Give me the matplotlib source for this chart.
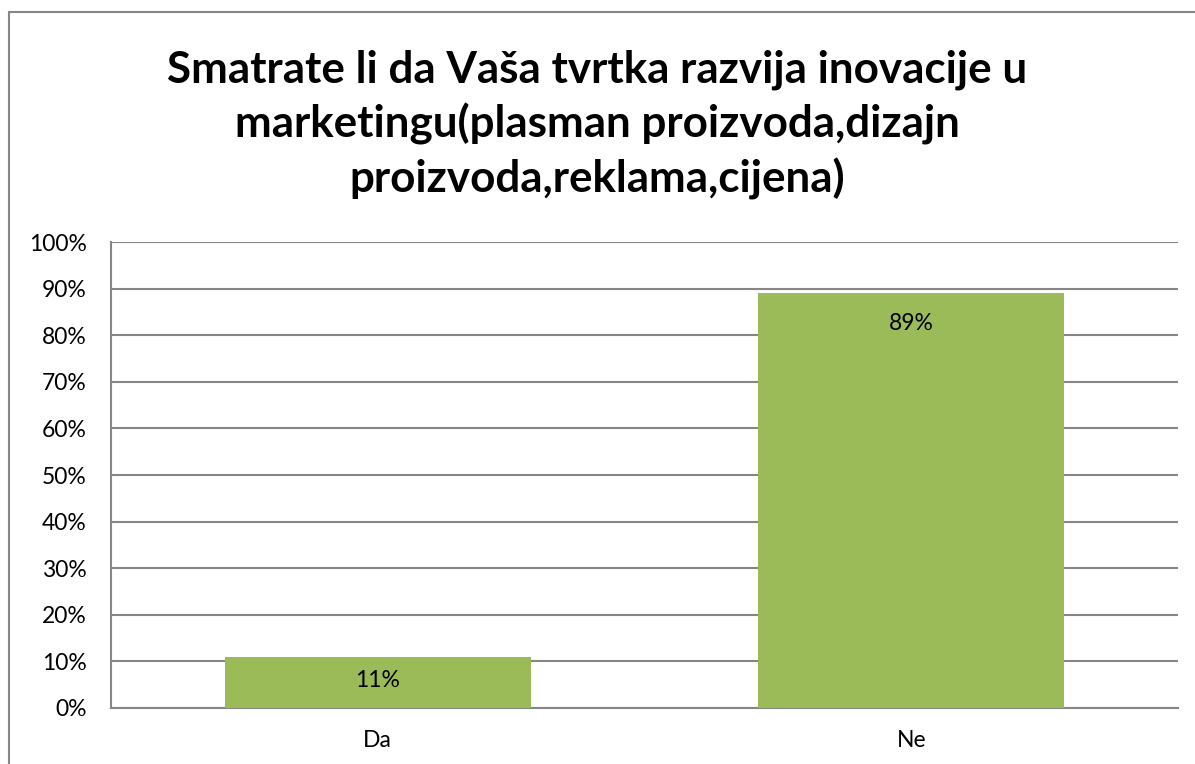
import matplotlib
matplotlib.use("Agg")
import matplotlib.pyplot as plt
from matplotlib.patches import Rectangle

categories = ["Da", "Ne"]
values = [11, 89]
value_labels = ["11%", "89%"]
yticks = [0, 10, 20, 30, 40, 50, 60, 70, 80, 90, 100]
ytick_labels = [f"{t}%" for t in yticks]
title = "Smatrate li da Vaša tvrtka razvija inovacije u\nmarketingu(plasman proizvoda,dizajn\nproizvoda,reklama,cijena)"

plt.rcParams['font.family'] = ['Lato', 'DejaVu Sans']

W, H = 1195, 764
fig = plt.figure(figsize=(W / 100, H / 100), dpi=100)

# outer chart border
fig.patches.append(Rectangle((9 / W, -0.1), 1.2, 1 - 12 / H + 0.1, transform=fig.transFigure,
                             fill=False, edgecolor="#868686", linewidth=1.5))

ax = fig.add_axes([111 / W, 1 - 708 / H, (1178 - 111) / W, (708 - 242) / H])
x = list(range(len(categories)))
bars = ax.bar(x, values, width=0.573, color="#9BBB59", zorder=3)
ax.set_xlim(-0.5, 1.5)
ax.set_ylim(0, 100)
ax.set_yticks(yticks)
ax.set_yticklabels(ytick_labels, fontsize=16.5)
ax.set_xticks(x)
ax.set_xticklabels(categories, fontsize=16.5)
ax.tick_params(axis="both", length=0)
ax.tick_params(axis="y", pad=17.5)
ax.tick_params(axis="x", pad=15.5)
ax.grid(axis="y", color="#868686", linewidth=1.5, zorder=0)
for s in ["top", "right"]:
    ax.spines[s].set_visible(False)
for s in ["left", "bottom"]:
    ax.spines[s].set_color("#868686")
    ax.spines[s].set_linewidth(1.5)

label_offsets = [-17, -22]  # points below bar top (label centre)
for b, lab, off in zip(bars, value_labels, label_offsets):
    ax.annotate(lab, (b.get_x() + b.get_width() / 2, b.get_height()),
                xytext=(0, off), textcoords="offset points",
                ha="center", va="center", fontsize=16.5, color="black", zorder=4)

fig.text(597 / W, 1 - 125 / H, title, ha="center", va="center", fontsize=31.7,
         fontweight="bold", linespacing=1.37)

fig.savefig("out.png", dpi=100)
